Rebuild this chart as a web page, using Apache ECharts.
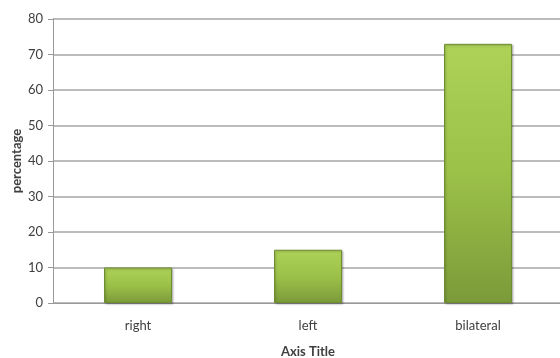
<!DOCTYPE html>
<html>
<head>
<meta charset="utf-8">
<script src="https://cdn.jsdelivr.net/npm/echarts@6/dist/echarts.min.js"></script>
<style>
  html, body { margin: 0; padding: 0; background: #fff; }
  #chart { width: 560px; height: 358px; }
</style>
</head>
<body>
<div id="chart"></div>
<script>
// Side distribution, percentage per category
const categories = ['right', 'left', 'bilateral'];
const percentages = [10, 15, 73];
const yTicks = { min: 0, max: 80, interval: 10 };

const chart = echarts.init(document.getElementById('chart'));

const barFill = new echarts.graphic.LinearGradient(0, 0, 0, 1, [
  { offset: 0, color: '#aed258' },
  { offset: 0.5, color: '#9cc148' },
  { offset: 1, color: '#7b9a3a' }
]);

chart.setOption({
  animation: false,
  textStyle: { fontFamily: 'Lato, "Open Sans", sans-serif' },
  grid: {
    left: 53, right: -3, top: 19, bottom: 55,
    containLabel: false,
    outerBoundsMode: 'none'
  },
  xAxis: {
    type: 'category',
    data: categories,
    name: 'Axis Title',
    nameLocation: 'middle',
    nameGap: 42,
    nameMoveOverlap: false,
    nameTextStyle: { fontSize: 13, fontWeight: 'bold', color: '#404040' },
    axisLine: { lineStyle: { color: '#999', width: 1 } },
    axisTick: { show: false },
    axisLabel: { fontSize: 13, color: '#404040', margin: 16 }
  },
  yAxis: {
    type: 'value',
    min: yTicks.min,
    max: yTicks.max,
    interval: yTicks.interval,
    name: 'percentage',
    nameLocation: 'middle',
    nameGap: 30,
    nameMoveOverlap: false,
    nameTextStyle: { fontSize: 13, fontWeight: 'bold', color: '#404040' },
    axisLine: { show: true, lineStyle: { color: '#999', width: 1 } },
    axisTick: { show: true, length: 5, lineStyle: { color: '#999' } },
    axisLabel: { fontSize: 13, color: '#404040', margin: 10 },
    splitLine: { lineStyle: { color: '#a6a6a6', width: 1.5 } }
  },
  series: [{
    type: 'bar',
    data: percentages,
    barWidth: '40%',
    itemStyle: {
      color: barFill,
      borderColor: '#6e8e32',
      borderWidth: 1,
      shadowColor: 'rgba(0,0,0,0.25)',
      shadowBlur: 2,
      shadowOffsetX: 1,
      shadowOffsetY: 1
    }
  }]
});
</script>
</body>
</html>
